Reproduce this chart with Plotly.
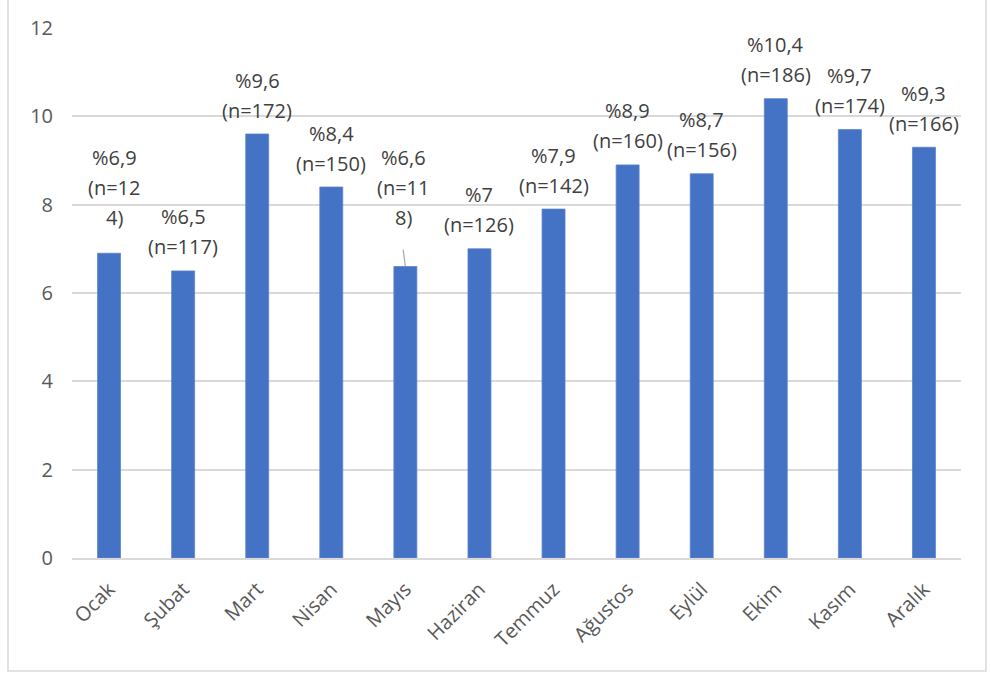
import plotly.graph_objects as go

# Monthly share (%) and case counts
months = ["Ocak", "Şubat", "Mart", "Nisan", "Mayıs", "Haziran",
          "Temmuz", "Ağustos", "Eylül", "Ekim", "Kasım", "Aralık"]
percent = [6.9, 6.5, 9.6, 8.4, 6.6, 7.0, 7.9, 8.9, 8.7, 10.4, 9.7, 9.3]
counts = [124, 117, 172, 150, 118, 126, 142, 160, 156, 186, 174, 166]

y_ticks = [0, 2, 4, 6, 8, 10, 12]

BAR_COLOR = "#4472C4"
LABEL_COLOR = "#404040"
TICK_COLOR = "#595959"
GRID_COLOR = "#D9D9D9"
FONT = "Open Sans"
FS = 20

W, H = 991, 673
M_L, M_R, M_T, M_B = 72, 30, 28, 115
plot_h = H - M_T - M_B
px_per_unit = plot_h / (y_ticks[-1] - y_ticks[0])


def fmt_pct(v):
    s = f"{v:g}".replace(".", ",")
    return "%" + s


# Label lines per bar; two labels wrap onto three lines
def label_lines(i):
    pct = fmt_pct(percent[i])
    n = f"(n={counts[i]})"
    if months[i] in ("Ocak", "Mayıs"):
        return [pct, n[:-2], n[-2:]]
    return [pct, n]


# Gap (px) from bar top to centre of the last label line, and horizontal nudge
gap = {m: 24 for m in months}
gap["Ocak"] = 36
gap["Mayıs"] = 49
xshift = {m: 0 for m in months}
xshift["Ocak"] = 5
xshift["Mayıs"] = -2
LINE_STEP = 30

fig = go.Figure()
fig.add_trace(go.Bar(
    x=months, y=percent,
    marker=dict(color=BAR_COLOR, line=dict(color="#5B84CC", width=0.8)),
    width=0.31,
    hoverinfo="skip",
))

annotations = []
for i, m in enumerate(months):
    lines = label_lines(i)
    k = len(lines)
    for j, txt in enumerate(lines):
        offset = gap[m] + (k - 1 - j) * LINE_STEP
        annotations.append(dict(
            x=m, y=percent[i], xref="x", yref="y",
            text=txt, showarrow=False,
            xanchor="center", yanchor="middle",
            yshift=offset, xshift=xshift[m],
            font=dict(family=FONT, size=FS, color=LABEL_COLOR),
        ))

shapes = []
# Leader line for the Mayıs label
mi = months.index("Mayıs")
shapes.append(dict(
    type="line", xref="x", yref="y",
    x0=mi - 0.03, y0=percent[mi] + 17 / px_per_unit,
    x1=mi, y1=percent[mi],
    line=dict(color="#A6A6A6", width=1.2),
))

# Chart-area border
plot_w = W - M_L - M_R
def px_x(p):
    return (p - M_L) / plot_w
def px_y(p):
    return 1 - (p - M_T) / plot_h
shapes.append(dict(
    type="rect", xref="paper", yref="paper",
    x0=px_x(8), x1=px_x(986), y0=px_y(671), y1=px_y(-2),
    line=dict(color="#D9D9D9", width=1.5), fillcolor="rgba(0,0,0,0)",
    layer="below",
))

fig.update_layout(
    width=W, height=H,
    margin=dict(l=M_L, r=M_R, t=M_T, b=M_B),
    paper_bgcolor="white", plot_bgcolor="white",
    showlegend=False,
    annotations=annotations,
    shapes=shapes,
    font=dict(family=FONT, size=FS, color=TICK_COLOR),
    xaxis=dict(
        tickangle=-45,
        tickfont=dict(family=FONT, size=FS, color=TICK_COLOR),
        showline=True, linecolor=GRID_COLOR, linewidth=1.5,
        ticks="", showgrid=False,
        ticklabelstandoff=10,
    ),
    yaxis=dict(
        range=[y_ticks[0], y_ticks[-1]],
        tickvals=y_ticks,
        tickfont=dict(family=FONT, size=FS, color=TICK_COLOR),
        showgrid=True, gridcolor=GRID_COLOR, gridwidth=1.5,
        zeroline=False, showline=False, ticks="",
        ticklabelstandoff=18,
    ),
)

fig.write_html("out.html")
